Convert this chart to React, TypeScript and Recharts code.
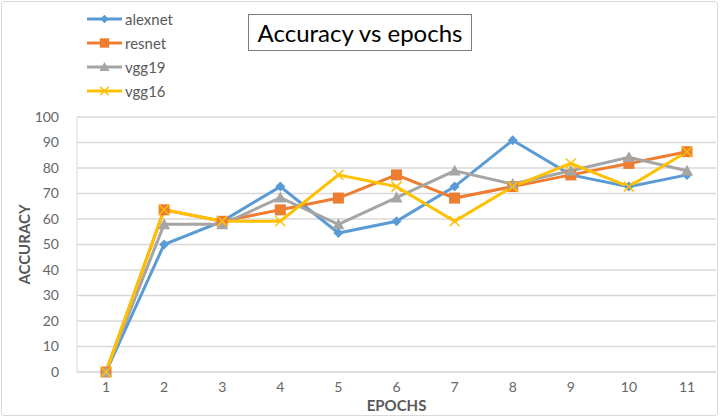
import { LineChart, Line, XAxis, YAxis, CartesianGrid } from "recharts";

const epochs = ["1", "2", "3", "4", "5", "6", "7", "8", "9", "10", "11"];
const alexnet = [0, 50, 59.1, 72.7, 54.5, 59.1, 72.7, 90.9, 77.3, 72.7, 77.3];
const resnet = [0, 63.6, 59.1, 63.6, 68.2, 77.3, 68.2, 72.7, 77.3, 81.8, 86.4];
const vgg19 = [0, 57.9, 57.9, 68.4, 57.9, 68.4, 78.9, 73.7, 78.9, 84.2, 78.9];
const vgg16 = [0, 63.6, 59.1, 59.1, 77.3, 72.7, 59.1, 72.7, 81.8, 72.7, 86.4];
const yTicks = [0, 10, 20, 30, 40, 50, 60, 70, 80, 90, 100];

const data = epochs.map((e, i) => ({
  epoch: e,
  alexnet: alexnet[i],
  resnet: resnet[i],
  vgg19: vgg19[i],
  vgg16: vgg16[i],
}));

const FONT = "Lato, 'Open Sans', sans-serif";

const series = [
  { key: "alexnet", color: "#5B9BD5", shape: "diamond" },
  { key: "resnet", color: "#ED7D31", shape: "square" },
  { key: "vgg19", color: "#A5A5A5", shape: "triangle" },
  { key: "vgg16", color: "#FFC000", shape: "x" },
];

function Marker({ shape, color, cx, cy, size = 1 }: any) {
  if (cx == null || cy == null) return null;
  if (shape === "diamond") {
    const r = 5 * size;
    return <polygon points={`${cx},${cy - r} ${cx + r},${cy} ${cx},${cy + r} ${cx - r},${cy}`} fill={color} />;
  }
  if (shape === "square") {
    const r = 5.5 * size;
    return <rect x={cx - r} y={cy - r} width={r * 2} height={r * 2} fill={color} />;
  }
  if (shape === "triangle") {
    const r = 6 * size;
    return <polygon points={`${cx},${cy - r} ${cx + r},${cy + r * 0.8} ${cx - r},${cy + r * 0.8}`} fill={color} />;
  }
  const r = 5 * size;
  return (
    <g stroke={color} strokeWidth={1.5}>
      <line x1={cx - r} y1={cy - r} x2={cx + r} y2={cy + r} />
      <line x1={cx - r} y1={cy + r} x2={cx + r} y2={cy - r} />
    </g>
  );
}

const makeDot = (shape: string, color: string) => (props: any) => (
  <Marker key={`${shape}-${props.index}`} shape={shape} color={color} cx={props.cx} cy={props.cy} />
);

function LegendBox() {
  return (
    <div style={{ position: "absolute", left: 87, top: 7, fontFamily: FONT, fontSize: 15, color: "#595959" }}>
      {series.map((s) => (
        <div key={s.key} style={{ display: "flex", alignItems: "center", height: 24 }}>
          <svg width={36} height={14}>
            <line x1={0} y1={7} x2={35} y2={7} stroke={s.color} strokeWidth={3} />
            <Marker shape={s.shape} color={s.color} cx={17.5} cy={7} size={0.85} />
          </svg>
          <span style={{ marginLeft: 2 }}>{s.key}</span>
        </div>
      ))}
    </div>
  );
}

export default function App() {
  return (
    <div style={{ position: "absolute", left: 0, top: 0, width: 720, height: 418, background: "#fff" }}>
      <div
        style={{
          position: "absolute",
          left: 1,
          top: 1,
          width: 715,
          height: 413,
          border: "1px solid #d9d9d9",
          borderRadius: 3,
        }}
      />
      <div
        style={{
          position: "absolute",
          left: 248,
          top: 14,
          width: 222,
          height: 35,
          border: "1px solid #7f7f7f",
          fontFamily: FONT,
          fontSize: 24,
          color: "#000",
          display: "flex",
          alignItems: "center",
          justifyContent: "center",
        }}
      >
        Accuracy vs epochs
      </div>
      <LineChart
        width={720}
        height={418}
        data={data}
        margin={{ top: 117, right: 4, bottom: 16, left: 37 }}
        style={{ position: "absolute", left: 0, top: 0 }}
      >
        <CartesianGrid vertical={false} stroke="#d9d9d9" strokeWidth={1.5} />
        <XAxis
          dataKey="epoch"
          height={30}
          stroke="#d9d9d9"
          tickLine={false}
          padding={{ left: 29, right: 29 }}
          tick={{ fill: "#666666", fontSize: 14, fontFamily: FONT }}
          tickMargin={4}
          label={{
            value: "EPOCHS",
            position: "insideBottom",
            offset: -9,
            fill: "#595959",
            fontSize: 15,
            fontWeight: 700,
            fontFamily: FONT,
          }}
        />
        <YAxis
          width={40}
          domain={[0, 100]}
          ticks={yTicks}
          stroke="#d9d9d9"
          tickLine={false}
          tick={{ fill: "#666666", fontSize: 14, fontFamily: FONT }}
          tickMargin={12}
          label={{
            value: "ACCURACY",
            angle: -90,
            position: "insideLeft",
            offset: -12,
            style: { textAnchor: "middle" },
            fill: "#595959",
            fontSize: 15,
            fontWeight: 700,
            fontFamily: FONT,
          }}
        />
        {series.map((s) => (
          <Line
            key={s.key}
            dataKey={s.key}
            type="linear"
            stroke={s.color}
            strokeWidth={3}
            dot={makeDot(s.shape, s.color)}
            activeDot={false}
            isAnimationActive={false}
          />
        ))}
      </LineChart>
      <LegendBox />
    </div>
  );
}
